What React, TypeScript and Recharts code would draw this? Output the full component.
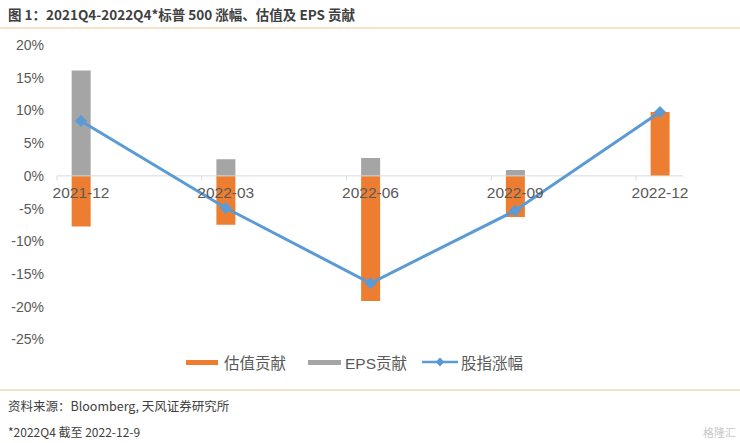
import React from 'react';
import {
  ComposedChart,
  Bar,
  Line,
  XAxis,
  YAxis,
  ReferenceLine,
  LabelList,
} from 'recharts';

const categories = ['2021-12', '2022-03', '2022-06', '2022-09', '2022-12'];
const valuationContribution = [-7.75, -7.45, -19.1, -6.3, 9.75];
const epsContribution = [16.1, 2.55, 2.75, 0.9, 0];
const indexChange = [8.4, -4.9, -16.4, -5.3, 9.75];
const yTicks = [-25, -20, -15, -10, -5, 0, 5, 10, 15, 20];

const ORANGE = '#ED7D31';
const GREY = '#A5A5A5';
const BLUE = '#5B9BD5';
const TEXT = '#595959';

const rows = categories.map((name, i) => ({
  name,
  idx: i,
  valuation: valuationContribution[i],
  eps: epsContribution[i],
  index: indexChange[i],
  zero: 0,
}));

const X_OFFSET = 0.166;

const Diamond = (props: any) => {
  const { cx, cy, index } = props;
  if (cx == null || cy == null) return null;
  const r = 5.5;
  return (
    <path
      key={`d-${index}`}
      d={`M${cx},${cy - r}L${cx + r},${cy}L${cx},${cy + r}L${cx - r},${cy}Z`}
      fill={BLUE}
      stroke={BLUE}
    />
  );
};

const cjk = '"Noto Sans CJK SC", "Noto Sans", sans-serif';
const latin = '"Liberation Sans", "Noto Sans CJK SC", sans-serif';

export default function App() {
  return (
    <div
      style={{
        position: 'absolute',
        left: 0,
        top: 0,
        width: 740,
        height: 443,
        background: '#fff',
        overflow: 'hidden',
        fontFamily: cjk,
      }}
    >
      <div
        style={{
          position: 'absolute',
          left: 8,
          top: 4,
          fontSize: 13.5,
          fontWeight: 700,
          color: '#404040',
          whiteSpace: 'nowrap',
          lineHeight: '20px',
        }}
      >
        图 1：2021Q4-2022Q4*标普 500 涨幅、估值及 EPS 贡献
      </div>
      <div style={{ position: 'absolute', left: 0, top: 26.5, width: 740, height: 2, background: '#F5E2C9' }} />

      <div style={{ position: 'absolute', left: 0, top: 0 }}>
        <ComposedChart
          width={740}
          height={380}
          data={rows}
          margin={{ top: 45, right: 57, bottom: 40.5, left: 0 }}
          stackOffset="sign"
        >
          <XAxis
            dataKey="idx"
            type="number"
            scale="linear"
            domain={[-X_OFFSET, categories.length - 1 + 0.159]}
            allowDataOverflow
            hide
          />
          <YAxis
            type="number"
            domain={[-25, 20]}
            ticks={yTicks}
            interval={0}
            allowDataOverflow
            width={57}
            axisLine={false}
            tickLine={false}
            tickSize={0}
            tickMargin={13}
            tickFormatter={(v: number) => `${v}%`}
            tick={{ fill: TEXT, fontSize: 14, fontFamily: latin }}
          />
          <ReferenceLine y={0} stroke="#D9D9D9" strokeWidth={1} />
          {categories.map((_, i) => (
            <ReferenceLine
              key={`tm-${i}`}
              segment={[
                { x: i - X_OFFSET, y: 0 },
                { x: i - X_OFFSET, y: -0.7 },
              ]}
              stroke="#D9D9D9"
              strokeWidth={1}
            />
          ))}
          <Bar dataKey="valuation" stackId="a" fill={ORANGE} barSize={19} isAnimationActive={false} />
          <Bar dataKey="eps" stackId="a" fill={GREY} barSize={19} isAnimationActive={false} />
          <Line
            dataKey="zero"
            stroke="none"
            dot={false}
            activeDot={false}
            legendType="none"
            isAnimationActive={false}
          >
            <LabelList
              dataKey="name"
              position="bottom"
              offset={11}
              fill={TEXT}
              fontSize={15.5}
              fontFamily={latin}
            />
          </Line>
          <Line
            dataKey="index"
            stroke={BLUE}
            strokeWidth={3}
            dot={<Diamond />}
            activeDot={false}
            isAnimationActive={false}
          />
        </ComposedChart>
      </div>

      {/* Legend */}
      <div style={{ position: 'absolute', left: 186, top: 360, width: 32, height: 5, background: ORANGE }} />
      <div style={{ position: 'absolute', left: 224, top: 352, fontSize: 15.5, color: TEXT, lineHeight: '20px', whiteSpace: 'nowrap' }}>估值贡献</div>
      <div style={{ position: 'absolute', left: 308, top: 360, width: 33, height: 5, background: GREY }} />
      <div style={{ position: 'absolute', left: 345, top: 352, fontSize: 15.5, color: TEXT, lineHeight: '20px', whiteSpace: 'nowrap' }}>
        <span style={{ fontFamily: latin }}>EPS</span>贡献
      </div>
      <svg style={{ position: 'absolute', left: 420, top: 355 }} width={40} height={14}>
        <line x1={2} y1={7} x2={38} y2={7} stroke={BLUE} strokeWidth={2.5} />
        <path d="M20,2.5L24.5,7L20,11.5L15.5,7Z" fill={BLUE} />
      </svg>
      <div style={{ position: 'absolute', left: 461, top: 352, fontSize: 15.5, color: TEXT, lineHeight: '20px', whiteSpace: 'nowrap' }}>股指涨幅</div>

      <div style={{ position: 'absolute', left: 0, top: 389, width: 740, height: 2, background: '#F5E2C9' }} />
      <div style={{ position: 'absolute', left: 8, top: 398, fontSize: 12.5, color: '#404040', lineHeight: '16px', whiteSpace: 'nowrap' }}>
        资料来源：Bloomberg, 天风证券研究所
      </div>
      <div style={{ position: 'absolute', left: 8, top: 424, fontSize: 12, color: '#404040', lineHeight: '16px', whiteSpace: 'nowrap' }}>
        *2022Q4 截至 2022-12-9
      </div>
      <div style={{ position: 'absolute', left: 703, top: 425, fontSize: 11, color: '#C8C8C8', lineHeight: '14px', whiteSpace: 'nowrap' }}>
        格隆汇
      </div>
    </div>
  );
}
